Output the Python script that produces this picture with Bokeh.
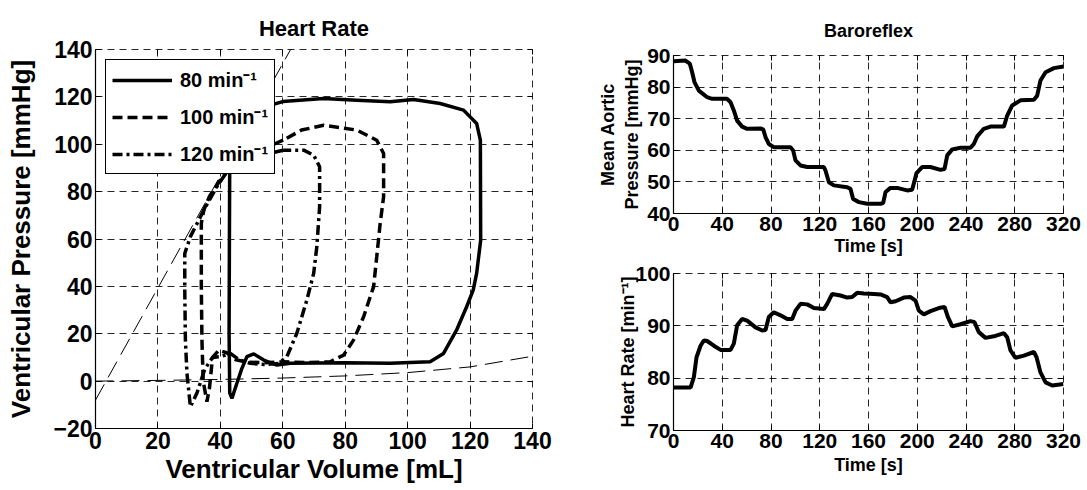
from bokeh.plotting import figure
from bokeh.layouts import row, column
from bokeh.models import Legend, LegendItem, LinearAxis, FixedTicker, Range1d
from bokeh.embed import file_html
from bokeh.resources import INLINE

FONT = "Liberation Sans"

# ---------------- data: PV loops ----------------
v_80 = [43.0, 42.9, 42.8, 43.0, 43.7, 45.3, 46.9, 48.5, 50.7, 53.9, 58.1, 62.4, 79.5, 94.4, 107.2,
        111.5, 115.7, 118.9, 121.0, 122.1, 123.4, 123.3, 122.1, 117.9, 110.4, 101.9, 94.4, 83.7,
        73.0, 60.0, 52.0, 46.0, 43.0]
p_80 = [92.0, 60.0, 20.0, -5.0, -7.3, -0.9, 5.4, 10.3, 11.5, 8.9, 6.8, 7.5, 7.8, 7.5, 8.2,
        11.7, 21.6, 31.4, 38.4, 45.5, 59.5, 101.7, 108.8, 114.4, 117.2, 118.9, 117.9, 118.6,
        119.3, 118.0, 115.0, 105.0, 92.0]

v_100 = [60.1, 52.0, 46.0, 42.5, 40.0, 36.5, 34.7, 33.9, 33.9, 34.1, 34.5, 35.7, 36.5, 37.5, 39.5,
         42.0, 45.0, 48.5, 54.0, 60.3, 67.7, 75.2, 79.5, 82.7, 85.9, 89.1, 90.1, 91.2, 92.3, 92.3,
         90.1, 83.7, 73.1, 66.0, 60.1]
p_100 = [101.7, 97.0, 93.0, 89.0, 84.9, 78.0, 72.2, 66.6, 39.9, 17.4, 0.0, -8.7, -3.0, 10.0, 13.0,
         12.0, 9.0, 8.0, 7.8, 8.2, 7.8, 8.2, 11.0, 17.4, 27.2, 39.9, 52.5, 66.6, 77.8, 96.1,
         101.7, 106.0, 108.0, 106.0, 101.7]

v_120 = [60.1, 52.0, 46.0, 42.1, 38.9, 34.7, 30.4, 28.6, 28.6, 28.8, 29.3, 30.4, 32.5, 35.0, 37.5,
         40.0, 43.2, 46.0, 49.6, 54.0, 58.7, 61.3, 64.5, 67.7, 69.9, 70.9, 71.8, 71.8, 69.9, 66.7, 60.1]
p_120 = [97.5, 95.0, 91.0, 88.4, 82.1, 72.2, 61.0, 53.9, 38.5, 17.4, 3.3, -10.8, -5.0, 5.0, 10.0,
         10.3, 11.7, 9.0, 7.5, 7.0, 7.5, 10.3, 20.2, 34.2, 45.5, 56.7, 73.6, 90.5, 95.4, 97.5, 97.5]

v_es = [0.0, 62.5]
p_es = [-8.0, 140.0]
v_ed = [0, 20, 40, 60, 80, 100, 120, 140]
p_ed = [0.0, 0.3, 0.7, 1.3, 2.2, 3.6, 6.0, 10.5]

legend_labels = ["80 min\u207b\u00b9", "100 min\u207b\u00b9", "120 min\u207b\u00b9"]

# ---------------- data: baroreflex ----------------
t_map = [0, 9.8, 13.4, 15.3, 17.2, 20.8, 27.6, 31.7, 44.0, 46.8, 49.5, 52.2, 56.3, 60.4, 71.4, 73.6,
         75.5, 78.2, 82.3, 96.0, 98.2, 100.1, 104.2, 109.7, 123.4, 124.7, 127.5, 131.6, 142.5, 145.2,
         147.4, 152.1, 158.9, 169.9, 172.0, 174.0, 178.0, 183.5, 191.7, 195.8, 197.8, 199.4, 204.0,
         210.9, 219.1, 222.4, 224.6, 228.7, 235.5, 243.7, 246.4, 249.2, 254.6, 260.1, 271.1, 273.8,
         277.9, 284.7, 295.7, 298.4, 301.1, 305.3, 312.1, 320.0]
map_v = [88.2, 88.4, 87.4, 84.7, 81.6, 78.9, 76.8, 76.3, 76.3, 75.2, 72.6, 69.4, 67.5, 66.8, 66.9, 66.6,
         64.2, 62.0, 61.0, 61.0, 59.9, 56.8, 55.2, 54.7, 54.7, 53.6, 49.9, 48.9, 48.3, 47.8,
         44.6, 43.6, 43.1, 43.1, 43.3, 46.8, 48.1, 48.1, 47.3, 47.5, 50.4, 52.8, 54.7,
         54.7, 53.8, 54.1, 58.4, 60.3, 60.8, 60.8, 62.0, 64.4, 66.8, 67.5, 67.5, 71.0,
         74.2, 75.8, 76.0, 77.3, 82.1, 84.7, 86.0, 86.5]

t_hr = [0, 14.0, 16.7, 18.9, 22.2, 24.9, 27.6, 33.1, 38.6, 46.8, 49.5, 52.2, 56.3, 60.4, 67.3, 72.8,
        75.5, 78.2, 82.3, 87.8, 93.3, 97.4, 100.1, 104.2, 109.7, 115.2, 123.4, 126.1, 130.2, 137.0,
        142.5, 146.6, 150.7, 156.2, 164.4, 169.9, 175.3, 178.1, 182.2, 189.0, 194.5, 198.6, 201.3,
        205.4, 210.9, 217.7, 222.4, 225.1, 228.7, 235.5, 243.7, 247.0, 250.5, 256.0, 262.9, 271.1,
        273.8, 276.5, 280.6, 287.5, 295.7, 297.9, 301.1, 305.3, 310.7, 320.0]
hr_v = [78.2, 78.2, 80.2, 84.0, 86.2, 87.2, 87.1, 86.2, 85.4, 85.4, 86.6, 90.1, 91.3, 91.0, 89.7, 89.1,
        89.2, 91.7, 92.6, 92.0, 91.3, 91.3, 92.9, 94.2, 94.1, 93.4, 93.2, 94.2, 96.1, 95.8,
        95.4, 95.5, 96.3, 96.2, 96.1, 96.0, 95.5, 94.5, 94.7, 95.4, 95.5, 94.8, 92.9,
        92.2, 92.8, 93.4, 93.6, 91.7, 89.9, 90.3, 90.9, 90.7, 88.8, 87.7, 88.0, 88.6,
        87.8, 85.3, 83.9, 84.3, 85.0, 84.0, 81.1, 79.2, 78.6, 78.9]

vol_ticks = [0, 20, 40, 60, 80, 100, 120, 140]
pres_ticks = [-20, 0, 20, 40, 60, 80, 100, 120, 140]
time_ticks = [0, 40, 80, 120, 160, 200, 240, 280, 320]
map_ticks = [40, 50, 60, 70, 80, 90]
hr_ticks = [70, 80, 90, 100]


def style(p, xt, yt, tick_size, label_size, xlabel, ylabel, xstand, ystand, top_label_size=None):
    bx = p.below[0]
    ly = p.left[0]
    p.background_fill_color = "white"
    p.border_fill_color = "white"
    # dashed box on top / right (left & bottom covered by solid axes)
    p.outline_line_color = "black"
    p.outline_line_alpha = 0.85
    p.outline_line_width = 1
    p.outline_line_dash = "7 5"
    for ax in (bx, ly):
        ax.axis_line_color = "black"
        ax.axis_line_width = 1.2
        ax.major_tick_in = 5
        ax.major_tick_out = 0
        ax.minor_tick_line_color = None
        ax.major_tick_line_color = "black"
        ax.major_label_text_font = FONT
        ax.major_label_text_font_style = "bold"
        ax.major_label_text_font_size = tick_size
        ax.major_label_text_color = "black"
        ax.axis_label_text_font = FONT
        ax.axis_label_text_font_style = "bold"
        ax.axis_label_text_font_size = label_size
        ax.axis_label_text_color = "black"
        ax.major_label_standoff = 3
    bx.ticker = FixedTicker(ticks=xt)
    ly.ticker = FixedTicker(ticks=yt)
    bx.axis_label = xlabel
    ly.axis_label = ylabel
    bx.axis_label_standoff = xstand
    ly.axis_label_standoff = ystand
    p.xgrid.ticker = FixedTicker(ticks=xt)
    p.ygrid.ticker = FixedTicker(ticks=yt)
    for g in (p.xgrid, p.ygrid):
        g.grid_line_color = "black"
        g.grid_line_alpha = 0.85
        g.grid_line_width = 1
        g.grid_line_dash = "7 5"
    # inside ticks on top and right, no labels
    top = LinearAxis(ticker=FixedTicker(ticks=xt), axis_line_color=None, major_tick_in=5,
                     major_tick_out=0, minor_tick_line_color=None, major_label_text_color=None,
                     major_label_standoff=0)
    if top_label_size is not None:
        top.major_label_text_font_size = top_label_size
    right = LinearAxis(ticker=FixedTicker(ticks=yt), axis_line_color=None, major_tick_in=5,
                       major_tick_out=0, minor_tick_line_color=None, major_label_text_color=None,
                       major_label_standoff=0)
    p.add_layout(top, "above")
    p.add_layout(right, "right")
    p.title.text_font = FONT
    p.title.text_font_style = "bold"
    p.title.align = "center"
    p.title.text_color = "black"


# ---------------- left panel ----------------
p1 = figure(width=580, height=490, x_range=Range1d(0, 140), y_range=Range1d(-20, 140),
            output_backend="svg", toolbar_location=None, title="Heart Rate",
            min_border_left=95, min_border_right=48, min_border_top=49, min_border_bottom=62)
p1.title.text_font_size = "22px"
p1.title.standoff = 18
p1.line(v_es, p_es, line_color="black", line_width=1, line_dash="18 8")
p1.line(v_ed, p_ed, line_color="black", line_width=1, line_dash="18 8")
r80 = p1.line(v_80, p_80, line_color="black", line_width=3.5)
r100 = p1.line(v_100, p_100, line_color="black", line_width=3.5, line_dash="10 5")
r120 = p1.line(v_120, p_120, line_color="black", line_width=3.5, line_dash="10 4 3 4")
style(p1, vol_ticks, pres_ticks, "23px", "26px",
      "Ventricular Volume [mL]", "Ventricular Pressure [mmHg]", 2, 14, top_label_size="1px")

leg = Legend(items=[LegendItem(label=legend_labels[0], renderers=[r80]),
                    LegendItem(label=legend_labels[1], renderers=[r100]),
                    LegendItem(label=legend_labels[2], renderers=[r120])],
             location="top_left")
leg.margin = 10
leg.padding = 6
leg.spacing = 10
leg.glyph_width = 60
leg.glyph_height = 20
leg.label_height = 20
leg.label_standoff = 8
leg.label_text_font = FONT
leg.label_text_font_style = "bold"
leg.label_text_font_size = "20px"
leg.label_text_color = "black"
leg.border_line_color = "black"
leg.border_line_width = 1
leg.border_line_alpha = 1
leg.background_fill_alpha = 1
p1.add_layout(leg)

# ---------------- right top ----------------
p2 = figure(width=507, height=258, x_range=Range1d(0, 320), y_range=Range1d(40, 90),
            output_backend="svg", toolbar_location=None, title="Baroreflex",
            min_border_left=93, min_border_right=24, min_border_top=55, min_border_bottom=45)
p2.title.text_font_size = "18px"
p2.title.standoff = 29
p2.line(t_map, map_v, line_color="black", line_width=4)
style(p2, time_ticks, map_ticks, "21px", "18px",
      "Time [s]", "Mean Aortic\nPressure [mmHg]", 2, 2)

# ---------------- right bottom ----------------
p3 = figure(width=507, height=232, x_range=Range1d(0, 320), y_range=Range1d(70, 100),
            output_backend="svg", toolbar_location=None,
            min_border_left=93, min_border_right=24, min_border_top=15, min_border_bottom=60)
p3.line(t_hr, hr_v, line_color="black", line_width=4)
style(p3, time_ticks, hr_ticks, "21px", "18px",
      "Time [s]", "Heart Rate [min\u207b\u00b9]", 4, -6)

layout = row(p1, column(p2, p3, spacing=0), spacing=0)
open("out.html", "w").write(file_html(layout, INLINE))
